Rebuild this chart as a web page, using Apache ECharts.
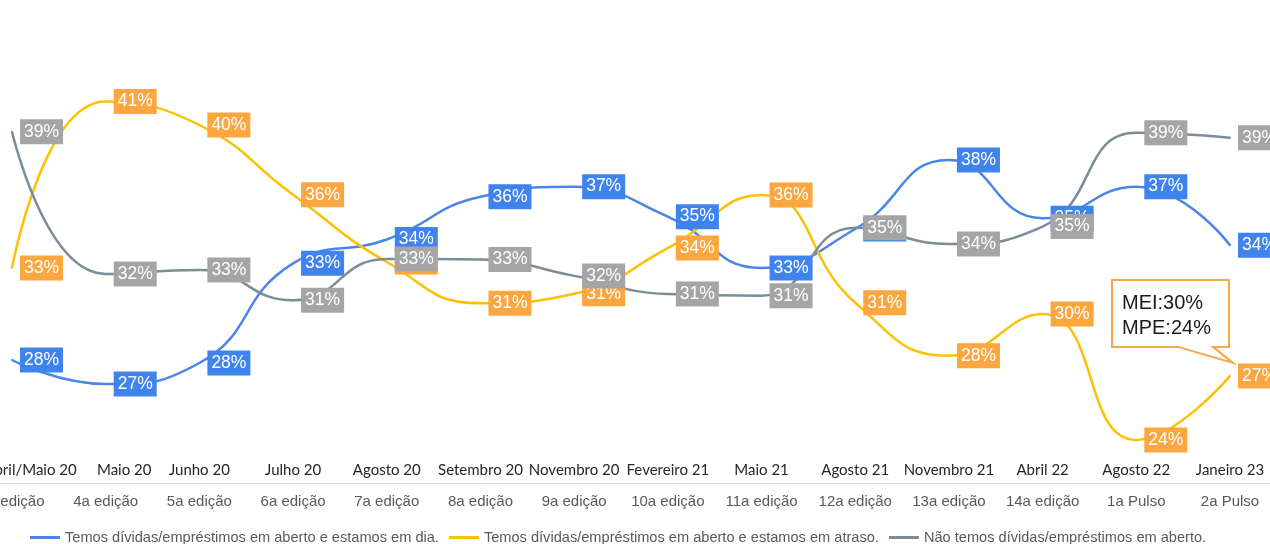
<!DOCTYPE html>
<html>
<head>
<meta charset="utf-8">
<style>
  html, body { margin: 0; padding: 0; background: #fff; }
  #chart { width: 1270px; height: 544px; }
</style>
<script src="https://cdn.jsdelivr.net/npm/echarts@6/dist/echarts.min.js"></script>
</head>
<body>
<div id="chart"></div>
<script>
const periods = ["Abril/Maio 20", "Maio 20", "Junho 20", "Julho 20", "Agosto 20", "Setembro 20", "Novembro 20",
  "Fevereiro 21", "Maio 21", "Agosto 21", "Novembro 21", "Abril 22", "Agosto 22", "Janeiro 23"];
const editions = ["3a edição", "4a edição", "5a edição", "6a edição", "7a edição", "8a edição", "9a edição",
  "10a edição", "11a edição", "12a edição", "13a edição", "14a edição", "1a Pulso", "2a Pulso"];

const seriesNames = [
  "Temos dívidas/empréstimos em aberto e estamos em dia.",
  "Temos dívidas/empréstimos em aberto e estamos em atraso.",
  "Não temos dívidas/empréstimos em aberto."
];
const emDia = [27.97, 26.76, 27.82, 32.83, 34.03, 36.18, 36.69, 35.18, 32.6, 34.56, 38.03, 35.1, 36.69, 33.74];
const emAtraso = [32.6, 40.97, 39.79, 36.28, 32.9, 30.82, 31.3, 33.6, 36.27, 30.85, 28.18, 30.28, 23.95, 27.17];
const semDividas = [39.45, 32.3, 32.5, 30.97, 33.05, 33.03, 32.2, 31.29, 31.2, 34.62, 33.81, 34.68, 39.4, 39.15];
const calloutLines = ["MEI:30%", "MPE:24%"];

const LINE_COLORS = ["#4a86e8", "#ffc000", "#7b8d98"];
const LABEL_COLORS = ["#3f83ee", "#fba63f", "#a5a5a5"];
const FONT = "'Liberation Sans', Arial, sans-serif";

const chart = echarts.init(document.getElementById("chart"));

const makeSeries = (name, data, i) => ({
  name,
  type: "line",
  data,
  smooth: 0.5,
  symbol: "circle",
  symbolSize: 2,
  lineStyle: { color: LINE_COLORS[i], width: 2.5 },
  itemStyle: { color: LINE_COLORS[i] },
  label: {
    show: true,
    position: "right",
    distance: 7,
    color: "#fff",
    fontFamily: FONT,
    fontSize: 17.5,
    lineHeight: 21,
    padding: [2, 4],
    backgroundColor: LABEL_COLORS[i],
    formatter: ({ value }) => Math.round(value) + "%"
  },
  emphasis: { disabled: true }
});

// the first two period labels sit a bit right of their points in the original
const periodData = periods.map((p, i) => i < 2 ? { value: p, textStyle: { padding: [0, 0, 0, 37] } } : p);

chart.setOption({
  animation: false,
  grid: { left: -34.85, right: -6.85, top: 41.3, bottom: 85.2, containLabel: false, outerBoundsMode: "none" },
  legend: {
    top: 525,
    left: 25,
    icon: "rect",
    itemWidth: 30,
    itemHeight: 3,
    itemGap: 10,
    textStyle: { color: "#595959", fontFamily: FONT, fontSize: 14.6 },
    data: seriesNames
  },
  xAxis: [
    {
      type: "category",
      data: periodData,
      boundaryGap: true,
      axisLine: { show: false },
      axisTick: { show: false },
      axisLabel: { interval: 0, margin: 4, color: "#262626", fontFamily: "Lato, sans-serif", fontSize: 15 }
    },
    {
      type: "category",
      data: editions,
      position: "bottom",
      offset: 24,
      boundaryGap: true,
      axisLine: { show: true, lineStyle: { color: "#d9d9d9", width: 1 } },
      axisTick: { show: false },
      axisLabel: { interval: 0, margin: 12, color: "#595959", fontFamily: FONT, fontSize: 15 }
    }
  ],
  yAxis: { type: "value", min: 23, max: 44, show: false, splitLine: { show: false } },
  series: [
    makeSeries(seriesNames[0], emDia, 0),
    makeSeries(seriesNames[1], emAtraso, 1),
    makeSeries(seriesNames[2], semDividas, 2)
  ]
});

// callout pointing at the last "em atraso" point
const last = emAtraso.length - 1;
const [px, py] = chart.convertToPixel({ xAxisIndex: 0, yAxisIndex: 0 }, [last, emAtraso[last]]);
const boxL = px - 118, boxR = px - 1, boxT = py - 96, boxB = py - 29;
chart.setOption({
  graphic: [
    {
      type: "polygon",
      z: 100,
      shape: {
        points: [[boxL, boxT], [boxR, boxT], [boxR, boxB], [px - 17, boxB], [px + 3, py - 13], [px - 52, boxB], [boxL, boxB]]
      },
      style: { fill: "#fff", stroke: "#f4a847", lineWidth: 2 }
    },
    {
      type: "text",
      z: 101,
      x: boxL + 10,
      y: boxT + 11,
      style: {
        text: calloutLines.join("\n"),
        fill: "#1a1a1a",
        font: "20px " + FONT,
        lineHeight: 25
      }
    }
  ]
});
</script>
</body>
</html>
